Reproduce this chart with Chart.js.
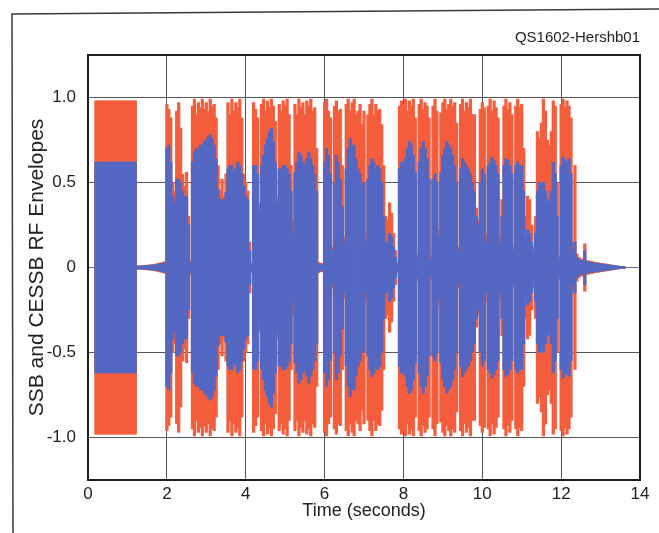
<!DOCTYPE html>
<html><head><meta charset="utf-8">
<script src="https://cdn.jsdelivr.net/npm/chart.js@4.4.0/dist/chart.umd.min.js"></script>
<style>html,body{margin:0;padding:0;background:#fff;overflow:hidden}#wrap{width:659px;height:533px;position:relative}</style>
</head><body><div id="wrap"><canvas id="c" width="659" height="533"></canvas></div>
<script>
// ---- text ----
const chartLabel = 'QS1602-Hershb01';
const xTitle = 'Time (seconds)';
const yTitle = 'SSB and CESSB RF Envelopes';
// ---- ticks ----
const xTicks = [0, 2, 4, 6, 8, 10, 12, 14];
const yTicks = [-1.0, -0.5, 0, 0.5, 1.0];
const yTickLabels = ['-1.0', '-0.5', '0', '0.5', '1.0'];
// ---- sampling grid (seconds) ----
const sampleStart = 0;
const sampleStep = 0.05;
// ---- SSB envelope peak (red), one value per 0.05 s, rows = whole seconds ----
const ssbPeak = [
  0,0,0,0,.98,.98,.98,.98,.98,.98,.98,.98,.98,.98,.98,.98,.98,.98,.98,.98,
  .98,.98,.98,.98,.98,.01,.01,.01,.012,.012,.014,.015,.016,.018,.02,.022,.025,.028,.03,.035,
  .96,.93,.88,.5,.45,.92,.97,.82,.55,.48,.56,.3,.04,.95,.99,.9,.97,.94,.99,.93,
  .97,.92,.99,.95,.96,.88,.6,.45,.52,.42,.55,.97,.9,.99,.92,.97,.94,.99,.88,.55,
  .5,.45,.15,.03,.97,.93,.88,.38,.96,.99,.92,.98,.94,.99,.95,.86,.42,.96,.92,.98,
  .95,.99,.9,.6,.28,.96,.9,.99,.94,.97,.9,.98,.95,.99,.92,.94,.7,.03,.025,.025,
  .97,.99,.92,.88,.12,.95,.98,.92,.93,.6,.18,.96,.99,.92,.97,.99,.9,.92,.96,.84,
  .92,.2,.9,.96,.99,.9,.96,.92,.93,.84,.6,.3,.28,.38,.32,.2,.1,.03,.95,.98,
  .96,.99,.92,.98,.95,.99,.88,.08,.96,.99,.93,.97,.95,.88,.07,.95,.99,.92,.22,.91,
  .97,.99,.93,.96,.99,.95,.97,.85,.12,.96,.99,.92,.97,.94,.99,.9,.9,.35,.28,.93,
  .97,.94,.2,.95,.99,.92,.98,.94,.88,.18,.4,.95,.99,.93,.97,.9,.12,.95,.99,.94,
  .96,.7,.3,.42,.4,.25,.12,.3,.8,.76,.85,.99,.92,.75,.72,.8,.98,.95,.5,.07,
  .96,.99,.94,.98,.95,.88,.15,.6,.08,.06,.05,.05,.14,.04,.04,.035,.035,.03,.03,.028,
  .025,.024,.022,.02,.018,.016,.014,.012,.01,.008,.007,.006,.005,0,0,0,0,0,0,0,
  0
];
// ---- CESSB envelope peak (blue) ----
const cessbPeak = [
  0,0,0,0,.62,.62,.62,.62,.62,.62,.62,.62,.62,.62,.62,.62,.62,.62,.62,.62,
  .62,.62,.62,.62,.62,.008,.008,.009,.01,.01,.012,.012,.014,.015,.016,.018,.02,.022,.025,.028,
  .7,.72,.62,.42,.38,.52,.52,.5,.45,.42,.42,.25,.03,.62,.68,.7,.7,.72,.72,.74,
  .75,.77,.78,.76,.72,.64,.46,.4,.4,.4,.44,.58,.6,.6,.56,.58,.62,.6,.55,.48,
  .42,.4,.1,.02,.6,.6,.55,.32,.6,.66,.72,.76,.8,.82,.74,.62,.38,.58,.58,.6,
  .6,.58,.55,.45,.2,.56,.62,.68,.66,.62,.6,.64,.68,.64,.6,.55,.45,.02,.02,.02,
  .62,.7,.66,.55,.1,.5,.66,.62,.52,.36,.15,.58,.7,.76,.72,.72,.64,.58,.55,.48,
  .5,.15,.52,.6,.64,.62,.58,.6,.58,.5,.3,.15,.14,.2,.18,.12,.06,.02,.58,.62,
  .62,.64,.7,.74,.72,.66,.56,.06,.62,.7,.74,.7,.64,.52,.05,.52,.55,.5,.18,.56,
  .66,.7,.74,.72,.7,.66,.6,.5,.1,.58,.64,.62,.6,.58,.55,.5,.45,.3,.25,.5,
  .58,.55,.15,.6,.62,.65,.63,.6,.55,.14,.3,.6,.64,.63,.6,.55,.1,.6,.62,.6,
  .6,.45,.18,.22,.2,.15,.08,.2,.45,.5,.48,.5,.45,.4,.38,.45,.62,.55,.3,.05,
  .6,.65,.63,.62,.64,.55,.1,.15,.06,.05,.04,.04,.1,.035,.03,.03,.03,.025,.025,.024,
  .022,.02,.019,.018,.016,.014,.012,.011,.009,.008,.007,.006,.005,0,0,0,0,0,0,0,
  0
];

const times = ssbPeak.map((_, i) => +(sampleStart + i * sampleStep).toFixed(2));
const toBars = arr => arr.map((v, i) => ({ x: times[i], y: [-v, v] }));

const FONT = "'Liberation Sans', Arial, Helvetica, sans-serif";

const framePlugin = {
  id: 'frame',
  beforeDraw(chart) {
    const c = chart.ctx;
    c.save();
    c.fillStyle = '#ffffff';
    c.fillRect(0, 0, chart.width, chart.height);
    c.strokeStyle = '#3a3a3a';
    c.lineWidth = 1.5;
    c.beginPath();
    c.moveTo(13, 533); c.lineTo(12, 14); c.lineTo(659, 9);
    c.stroke();
    c.restore();
  },
  afterDatasetsDraw(chart) {
    const a = chart.chartArea, c = chart.ctx;
    c.save();
    c.strokeStyle = '#1e1e1e';
    c.lineWidth = 2;
    c.strokeRect(a.left, a.top, a.right - a.left, a.bottom - a.top);
    c.restore();
  }
};

new Chart(document.getElementById('c'), {
  type: 'bar',
  data: {
    datasets: [
      { label: 'CESSB', data: toBars(cessbPeak), backgroundColor: '#5467c2', order: 1,
        grouped: false, barThickness: 2.6, borderWidth: 0 },
      { label: 'SSB', data: toBars(ssbPeak), backgroundColor: '#f45e3c', order: 2,
        grouped: false, barThickness: 2.6, borderWidth: 0 }
    ]
  },
  options: {
    responsive: false,
    animation: false,
    events: [],
    layout: { padding: { left: 0, right: 19, top: 0, bottom: 0 } },
    plugins: {
      legend: { display: false },
      tooltip: { enabled: false },
      title: {
        display: true, text: chartLabel, align: 'end', color: '#222',
        font: { family: FONT, size: 15, weight: 'normal', lineHeight: 1.2 },
        padding: { top: 29, bottom: 8 }
      }
    },
    scales: {
      x: {
        type: 'linear', min: 0, max: 14, offset: false,
        afterBuildTicks: s => { s.ticks = xTicks.map(v => ({ value: v })); },
        afterFit: s => { s.height = 53; },
        ticks: { color: '#222', font: { family: FONT, size: 17 }, padding: 4, maxRotation: 0, autoSkip: false },
        grid: { color: '#555', lineWidth: 1, drawTicks: false, offset: false },
        border: { display: true, color: '#1e1e1e', width: 2 },
        title: { display: true, text: xTitle, color: '#222', font: { family: FONT, size: 18, lineHeight: 1.2 }, padding: { top: 0, bottom: 11 } }
      },
      y: {
        type: 'linear', min: -1.25, max: 1.25,
        afterBuildTicks: s => { s.ticks = yTicks.map(v => ({ value: v })); },
        afterFit: s => { s.width = 88; },
        ticks: { color: '#222', font: { family: FONT, size: 17 }, padding: 12,
          callback: v => yTickLabels[yTicks.indexOf(v)] },
        grid: { color: '#555', lineWidth: 1, drawTicks: false },
        border: { display: true, color: '#1e1e1e', width: 2 },
        title: { display: true, text: yTitle, color: '#222', font: { family: FONT, size: 21, lineHeight: 1.2 }, padding: { top: 25, bottom: 0 } }
      }
    }
  },
  plugins: [framePlugin]
});
</script>
</body></html>
